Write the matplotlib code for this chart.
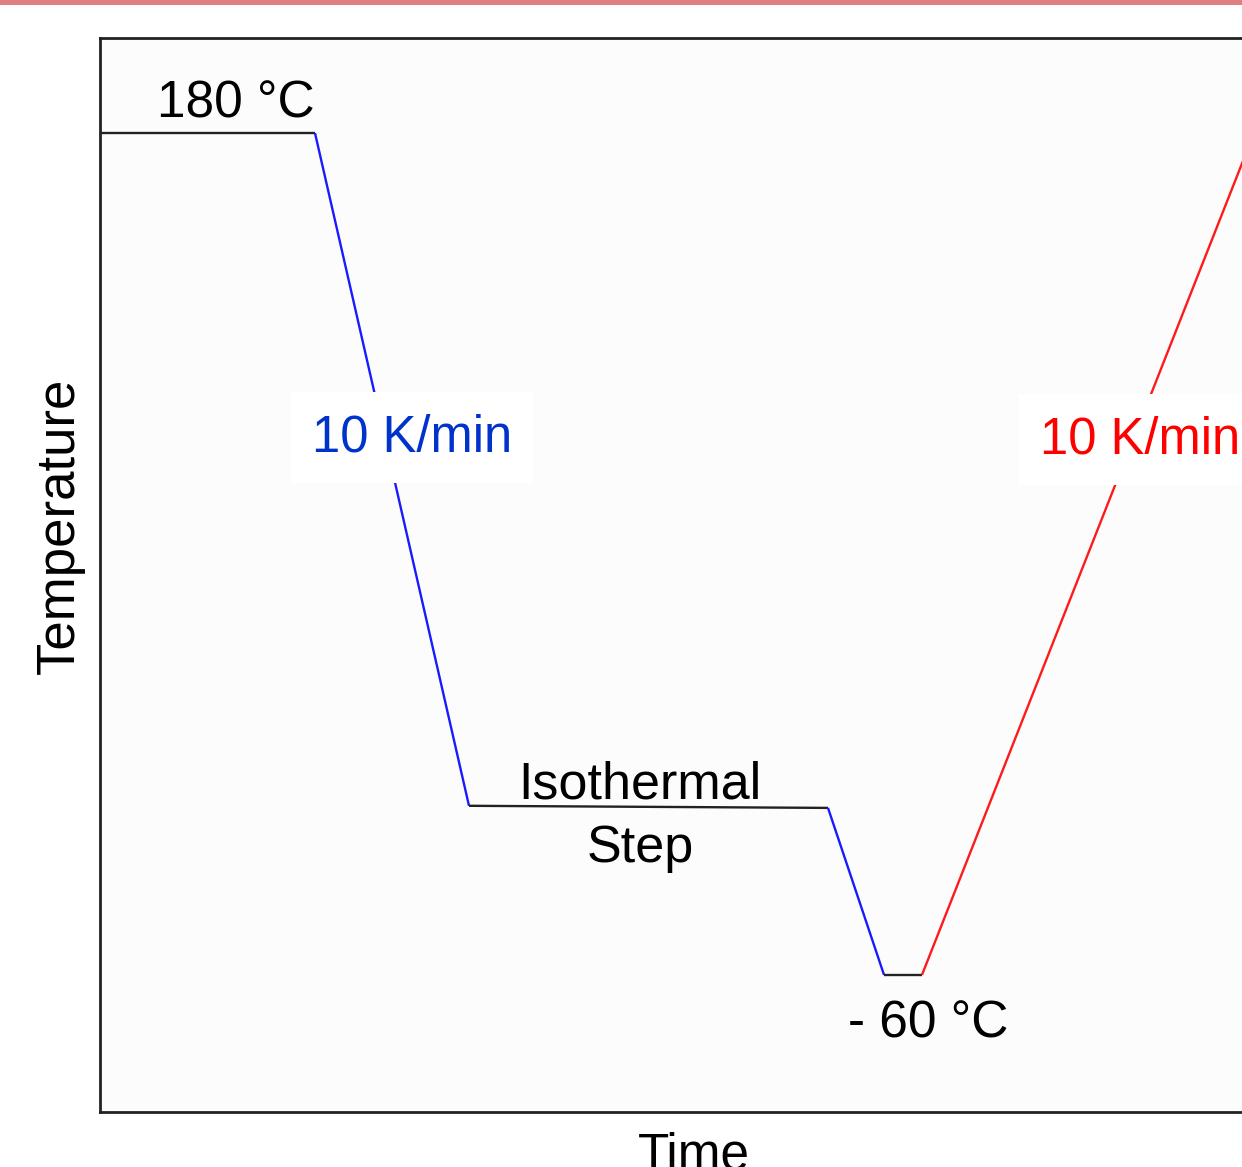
import matplotlib
matplotlib.use('Agg')
import matplotlib.pyplot as plt
from matplotlib.patches import Rectangle

plt.rcParams['font.family'] = ['Liberation Sans', 'DejaVu Sans']

# Temperature program (schematic): time in arbitrary units, temperature in °C
times = [0, 21.5, 36.9, 72.8, 78.4, 82.2, 115.4]
temps = [180, 180, -11.8, -12.4, -60, -60, 180]
seg_colors = ['#222222', '#1a1aff', '#222222', '#1a1aff', '#222222', '#ff1a1a']

W, H = 1242, 1167
fig = plt.figure(figsize=(W / 100, H / 100), dpi=100)
fig.patch.set_facecolor('white')

# pink band along the top edge
fig.patches.append(Rectangle((0, 1 - 5 / H), 1, 5 / H, transform=fig.transFigure,
                             facecolor='#e07f80', edgecolor='none'))

# axes runs past the right edge of the canvas (cropped original)
left, right, top, bottom = 100, 1300, 38, 1112
ax = fig.add_axes([left / W, 1 - bottom / H, (right - left) / W, (bottom - top) / H])
ax.set_facecolor('#fcfcfc')
ax.set_xlim(0, 120)
ax.set_ylim(-99.1, 207.1)
ax.set_xticks([])
ax.set_yticks([])
for sp in ax.spines.values():
    sp.set_linewidth(2.0)
    sp.set_color('#222222')

for i in range(len(times) - 1):
    ax.plot(times[i:i + 2], temps[i:i + 2], color=seg_colors[i], lw=1.7,
            solid_capstyle='butt', zorder=2)

box = dict(boxstyle='square,pad=0.42', facecolor='white', edgecolor='none')
ax.text(13.6, 184.3, '180 °C', fontsize=37, ha='center', va='baseline', color='black')
ax.text(31.2, 93.2, '10 K/min', fontsize=36.5, ha='center', va='center', color='#0033cc',
        bbox=box, zorder=3)
ax.text(104.0, 92.6, '10 K/min', fontsize=36.5, ha='center', va='center', color='#ff0000',
        bbox=box, zorder=3)
ax.text(54.0, -15.0, 'Isothermal\nStep', fontsize=37.5, ha='center', va='center',
        multialignment='center', color='black', linespacing=1.38)
ax.text(82.8, -74.0, '- 60 °C', fontsize=37, ha='center', va='center', color='black')

fig.text(60 / W, 1 - 526 / H, 'Temperature', fontsize=38, rotation=90,
         ha='center', va='center', color='black')
fig.text(694 / W, 1 - 1131 / H, 'Time', fontsize=37, ha='center', va='top', color='black')

fig.savefig('out.png', dpi=100, facecolor=fig.get_facecolor())
plt.close(fig)
